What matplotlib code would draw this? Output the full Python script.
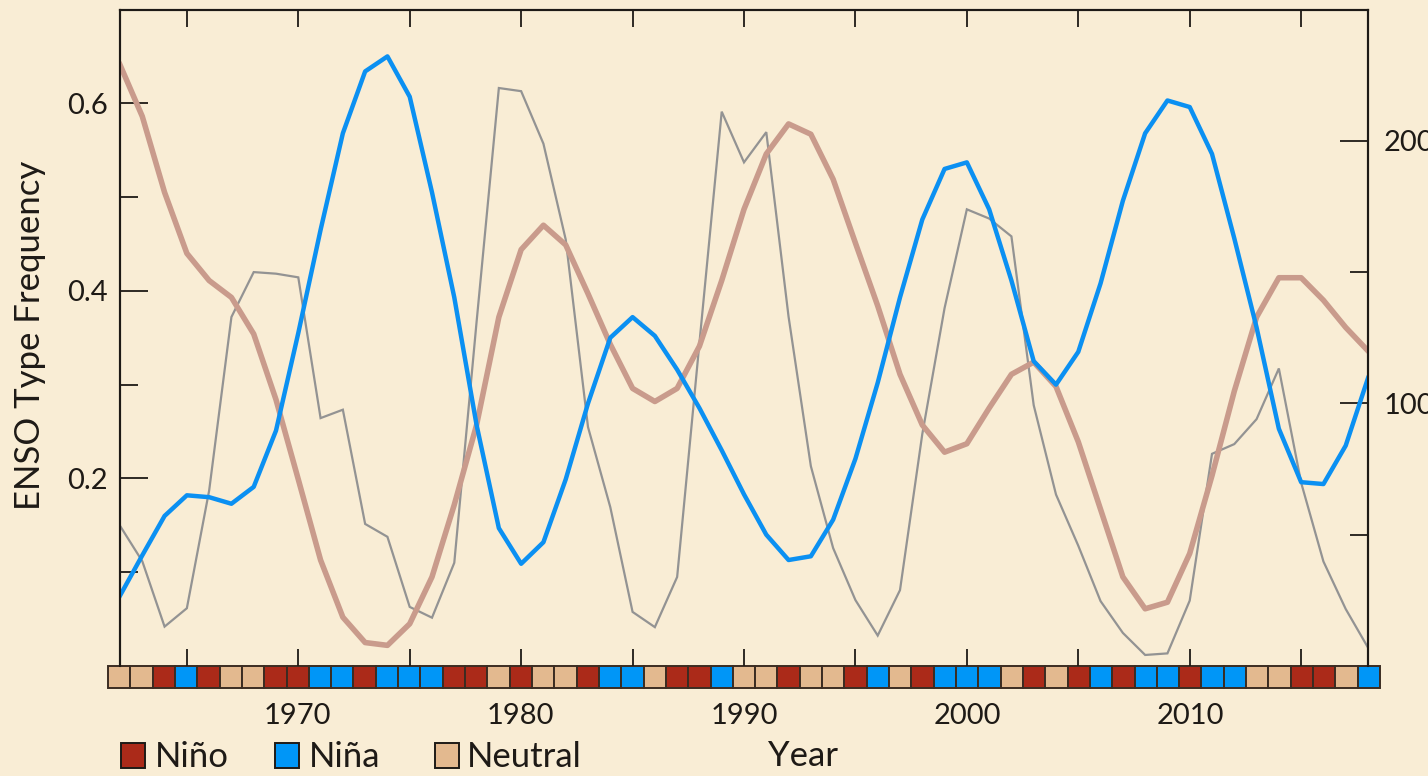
import matplotlib
matplotlib.use("Agg")
import matplotlib.pyplot as plt
from matplotlib.patches import Rectangle

plt.rcParams['font.family'] = ['Lato', 'DejaVu Sans']

W, H = 1428, 776

years = list(range(1962, 2019))

# La Nina frequency (left axis)
nina_freq = [0.075, 0.118, 0.160, 0.182, 0.180, 0.173, 0.191, 0.251, 0.355, 0.465,
             0.568, 0.634, 0.650, 0.607, 0.505, 0.393, 0.257, 0.147, 0.109, 0.132,
             0.199, 0.280, 0.350, 0.372, 0.352, 0.316, 0.275, 0.230, 0.183, 0.140,
             0.113, 0.117, 0.156, 0.221, 0.302, 0.393, 0.476, 0.530, 0.537, 0.487,
             0.411, 0.325, 0.300, 0.335, 0.408, 0.496, 0.568, 0.603, 0.596, 0.546,
             0.456, 0.361, 0.253, 0.196, 0.194, 0.235, 0.307]

# El Nino frequency (left axis)
nino_freq = [0.641, 0.586, 0.505, 0.440, 0.411, 0.393, 0.354, 0.284, 0.199, 0.113,
             0.052, 0.025, 0.022, 0.045, 0.095, 0.172, 0.257, 0.372, 0.444, 0.470,
             0.449, 0.397, 0.343, 0.296, 0.282, 0.296, 0.341, 0.411, 0.487, 0.546,
             0.578, 0.567, 0.519, 0.451, 0.384, 0.311, 0.257, 0.228, 0.237, 0.275,
             0.311, 0.324, 0.298, 0.239, 0.167, 0.095, 0.061, 0.068, 0.120, 0.203,
             0.293, 0.372, 0.414, 0.414, 0.390, 0.361, 0.336]

# gray curve (right axis)
sunspots = [53.4, 39.9, 15.0, 22.0, 66.8, 132.9, 150.0, 149.4, 148.0, 94.4,
            97.6, 54.1, 49.2, 22.5, 18.4, 39.3, 131.0, 220.1, 218.9, 198.9,
            162.4, 91.0, 60.5, 20.6, 14.8, 33.9, 123.0, 211.1, 191.8, 203.3,
            133.0, 76.1, 44.9, 25.1, 11.6, 28.9, 88.3, 136.3, 173.9, 170.4,
            163.6, 99.3, 65.3, 45.8, 24.7, 12.6, 4.2, 4.8, 24.9, 80.8,
            84.5, 94.0, 113.3, 69.8, 39.8, 21.7, 7.0]

# yearly ENSO type: E = Nino, L = Nina, N = Neutral
phase = ("N N E L E N N E E L "
         "L E L L L E E N E N "
         "N E L L N E E L N N "
         "E N N E L N E L L L "
         "N E N E L E L L E L "
         "L N N E E N L").split()

phase_colors = {"E": "#ab2a19", "L": "#0096f7", "N": "#e3b98f"}
legend_labels = [("E", "Niño", 121, 155), ("L", "Niña", 275, 309), ("N", "Neutral", 435, 467)]

bg = "#f9edd5"
ink = "#1e1a16"
fs = 21
fs_big = 25

fig = plt.figure(figsize=(W / 100, H / 100), dpi=100, facecolor=bg)

ax = fig.add_axes([120 / W, 1 - 666 / H, 1248 / W, 656.5 / H])
ax2 = ax.twinx()
ax.set_zorder(ax2.get_zorder() + 1)
ax.patch.set_visible(False)
ax2.patch.set_visible(False)

ax2.plot(years, sunspots, color="#939393", lw=1.6, solid_joinstyle="miter")
ax.plot(years, nino_freq, color="#c99b8c", lw=4.0)
ax.plot(years, nina_freq, color="#0b90f2", lw=3.2)

ax.set_xlim(1962, 2018)
ax.set_ylim(0, 0.7)
ax2.set_ylim(0, 250)

ax.set_xticks(range(1965, 2018, 5))
ax.set_xticklabels([])
ax.set_yticks([0.2, 0.4, 0.6])
ax.set_yticklabels(["0.2", "0.4", "0.6"])
ax.set_yticks([0.1, 0.3, 0.5], minor=True)
ax.tick_params(axis="x", direction="in", top=True, bottom=True, length=12,
               width=1.3, color=ink, labelbottom=False)
ax.tick_params(axis="y", which="major", direction="in", length=20, width=1.3,
               color=ink, labelsize=fs, pad=9, labelcolor=ink)
ax.tick_params(axis="y", which="minor", direction="in", length=13, width=1.3, color=ink)

ax2.set_yticks([100, 200])
ax2.set_yticks([50, 150], minor=True)
ax2.tick_params(axis="y", which="major", direction="in", length=20, width=1.3,
                color=ink, labelsize=fs, pad=11, labelcolor=ink)
ax2.tick_params(axis="y", which="minor", direction="in", length=13, width=1.3, color=ink)

for a in (ax, ax2):
    for side in ("left", "right", "top"):
        a.spines[side].set_linewidth(1.5)
        a.spines[side].set_color(ink)
    a.spines["bottom"].set_visible(False)

# strip of yearly ENSO types
axs = fig.add_axes([108 / W, 1 - 688 / H, 1272 / W, 22 / H])
axs.patch.set_visible(False)
bars = axs.bar(years, 1, width=1, color=[phase_colors[p] for p in phase],
               edgecolor="#3b2c22", linewidth=1.4)
for b in bars:
    b.set_clip_on(False)
axs.set_xlim(1961.5, 2018.5)
axs.set_ylim(0, 1)
axs.set_yticks([])
axs.set_xticks([1970, 1980, 1990, 2000, 2010])
axs.tick_params(axis="x", length=0, labelsize=fs, pad=11, labelcolor=ink)
for side in axs.spines:
    axs.spines[side].set_visible(False)

fig.text(30 / W, 1 - 335 / H, "ENSO Type Frequency", rotation=90, ha="center",
         va="center", fontsize=fs_big, color=ink)
fig.text(803 / W, 1 - 756 / H, "Year", ha="center", va="center", fontsize=fs_big, color=ink)

for key, label, sx, tx in legend_labels:
    fig.add_artist(Rectangle((sx / W, 1 - 768 / H), 24 / W, 25 / H,
                             transform=fig.transFigure, facecolor=phase_colors[key],
                             edgecolor="#1e1a16", linewidth=1.4))
    fig.text(tx / W, 1 - 757 / H, label, ha="left", va="center", fontsize=fs_big, color=ink)

fig.savefig("out.png", dpi=100, facecolor=bg)
